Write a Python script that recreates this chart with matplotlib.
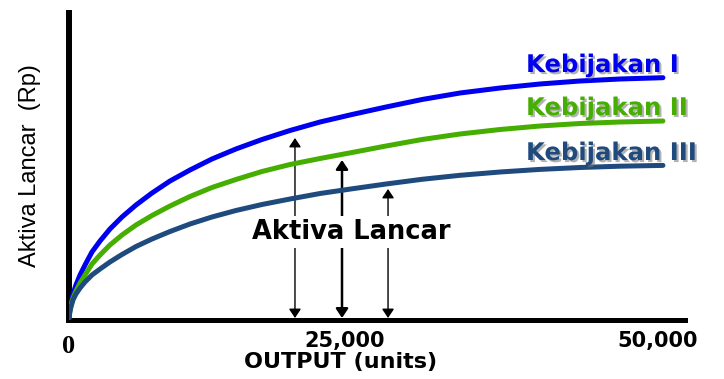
import matplotlib
matplotlib.use("Agg")
import matplotlib.pyplot as plt
import matplotlib.patheffects as pe
from matplotlib.transforms import offset_copy

# ---- data (schematic chart) ----
output_units = [0, 90, 180, 360, 630, 1000, 1450, 2080, 2810, 3710, 4800, 6070,
                7520, 9150, 10960, 12950, 15120, 17480, 20020, 22740, 25640, 28720,
                31980, 35420, 39050, 42660, 46290, 49910, 53800]
kebijakan_1 = [0, 10, 16, 24, 33, 43, 53, 66, 77, 89, 101, 113,
               125, 137, 148, 159, 169, 178.5, 187.5, 196, 203.5, 211,
               218.5, 225, 230, 234, 237, 239, 240.3]
kebijakan_2 = [0, 8, 13, 20, 27, 35, 43, 54, 63, 73, 83, 93,
               102.5, 112, 121.5, 130.5, 138.5, 146.5, 153.5, 159.5, 165.5, 172,
               178.5, 184, 188.5, 192, 194.5, 196, 197]
kebijakan_3 = [0, 7, 11, 18, 24, 30, 36, 43, 49, 56, 63.5, 71.5,
               79, 86.5, 94, 101, 107.5, 113.5, 119, 124.5, 129.2, 134,
               138.7, 142.7, 146, 148.6, 150.5, 151.8, 152.6]
series_names = ["Kebijakan I", "Kebijakan II", "Kebijakan III"]
series_colors = ["#0000F0", "#45AE00", "#1F4A7E"]

arrow_x = [20470, 24730, 28900]
arrow_top = [180, 158, 129]
arrow_widths = [1.0, 1.8, 1.0]

xtick_pos = [0, 25000, 53350]
xtick_labels = ["0", "25,000", "50,000"]

# ---- figure ----
fig = plt.figure(figsize=(7.24, 3.79), dpi=100)
ax = fig.add_axes([69 / 724, 59 / 379, 616 / 724, 307 / 379])
ax.set_xlim(0, 55800)
ax.set_ylim(-2, 305)

for ys, c in zip([kebijakan_1, kebijakan_2, kebijakan_3], series_colors):
    ax.plot(output_units, ys, color=c, lw=3.6, solid_capstyle="round",
            solid_joinstyle="round", zorder=3)

# series labels with drop shadow
label_y = [253, 210, 165]
shadow = [pe.withSimplePatchShadow(offset=(1.5, -1.5), shadow_rgbFace="0.45", alpha=0.55)]
for name, c, yy in zip(series_names, series_colors, label_y):
    ax.text(41400, yy, name, color=c, fontsize=17.5, fontweight="bold",
            family="DejaVu Sans", ha="left", va="center", path_effects=shadow)

# double-headed arrows
for xa, ta, w in zip(arrow_x, arrow_top, arrow_widths):
    ax.annotate("", xy=(xa, ta), xytext=(xa, 0),
                arrowprops=dict(arrowstyle="<|-|>,head_length=0.3,head_width=0.2",
                                lw=w, color="black", mutation_scale=18,
                                shrinkA=0, shrinkB=0), zorder=2)

ax.text(25540, 86, "Aktiva Lancar", fontsize=18.5, fontweight="bold",
        family="DejaVu Sans", ha="center", va="center", zorder=5,
        bbox=dict(boxstyle="square,pad=0.12", fc="white", ec="none"))

# spines
for s in ["top", "right"]:
    ax.spines[s].set_visible(False)
ax.spines["left"].set_linewidth(4.3)
ax.spines["bottom"].set_linewidth(3.6)
ax.set_yticks([])

ax.set_xticks(xtick_pos)
ax.set_xticklabels(xtick_labels, fontsize=15, fontweight="bold", family="DejaVu Sans")
ax.tick_params(axis="x", length=0, pad=8)
tl = ax.get_xticklabels()
tl[0].set_family("Liberation Serif")
tl[0].set_fontsize(19)
tl[0].set_transform(offset_copy(tl[0].get_transform(), fig=fig, y=-4, units="dots"))

ax.set_xlabel("OUTPUT (units)", fontsize=16, fontweight="bold", family="DejaVu Sans",
              va="center")
ax.xaxis.set_label_coords((341 - 69) / 616, (320 - 362) / 307)

ax.set_ylabel("Aktiva Lancar  (Rp)", fontsize=17, family="Liberation Sans", va="center")
ax.yaxis.set_label_coords((30 - 69) / 616, (320 - 166) / 307)

fig.savefig("out.png", dpi=100)
